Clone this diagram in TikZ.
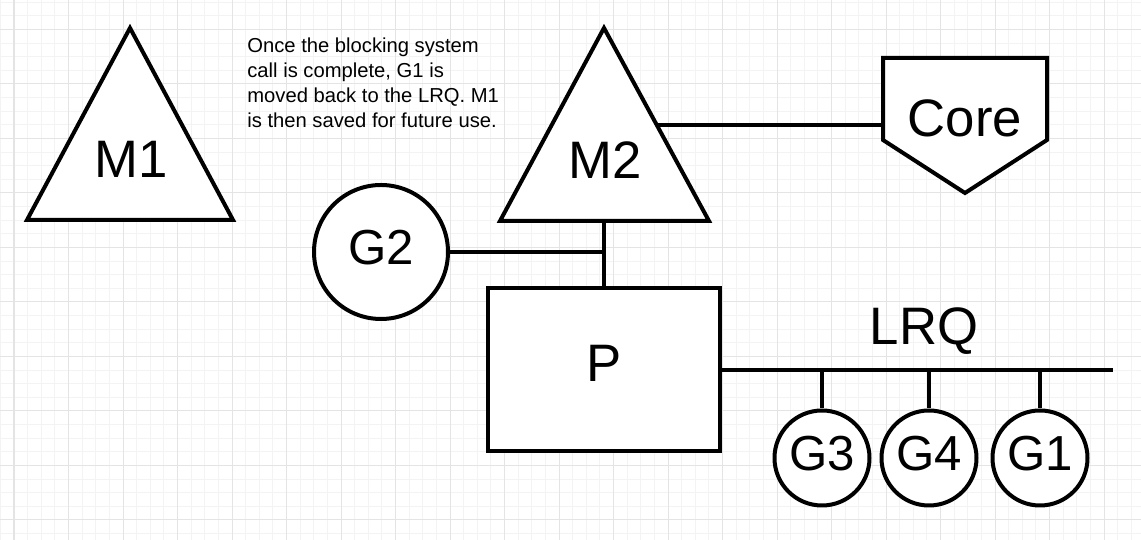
\documentclass[tikz,border=0pt]{standalone}
\usepackage{fontspec}
\setmainfont{Liberation Sans}
\usepackage{tikz}
\usepackage{xcolor}
\usetikzlibrary{positioning,calc}
\definecolor{gsink}{HTML}{000000}
\definecolor{gsgrid}{HTML}{F3F3F3}
\definecolor{gsgridd}{HTML}{E4E4E4}
\tikzset{
  wire/.style      = {draw=gsink, line width=0.08cm},
  mshape/.style    = {wire, fill=white, line join=miter},
  biglbl/.style    = {font=\fontsize{30}{36}\selectfont, inner sep=0pt,
                      text=gsink},
  gor/.style       = {circle, wire, fill=white, inner sep=0pt,
                      minimum size=1.9cm, text depth=0.2cm,
                      font=\fontsize{28}{34}\selectfont},
  proc/.style      = {rectangle, wire, fill=white, inner sep=0pt,
                      minimum width=4.64cm, minimum height=3.26cm,
                      text depth=0.28cm, font=\fontsize{30}{36}\selectfont},
  note/.style      = {font=\fontsize{11.5}{14.2}\selectfont, align=left,
                      inner sep=0pt, text=gsink},
  minorgrid/.style = {draw=gsgrid, line width=0.02cm},
  majorgrid/.style = {draw=gsgridd, line width=0.02cm},
}
\begin{document}
\begin{tikzpicture}

  \useasboundingbox (0,0) rectangle (22.82,10.8);
  \fill[white] (0,0) rectangle (22.82,10.8);

  % ---- grid paper -------------------------------------------------------
  \foreach \x in {0,...,83}
    \draw[minorgrid] ({0.0075+\x*0.2725},0) -- ++(0,10.8);
  \foreach \y in {0,...,39}
    \draw[minorgrid] (0,{0.1275+\y*0.2725}) -- ++(22.82,0);
  \foreach \x in {0,...,20}
    \draw[majorgrid] ({0.28+\x*1.09},0) -- ++(0,10.8);
  \foreach \y in {0,...,9}
    \draw[majorgrid] (0,{0.40+\y*1.09}) -- ++(22.82,0);

  % ---- threads and core -------------------------------------------------
  \draw[mshape] (2.60,10.24) -- (4.66,6.40) -- (0.54,6.40) -- cycle;
  \node[biglbl] (m1) at (2.62,7.62) {M1};

  \draw[mshape] (12.08,10.24) -- (14.18,6.38) -- (10.00,6.38) -- cycle;
  \node[biglbl] (m2) at (12.10,7.60) {M2};
  \coordinate (m2base) at (12.08,6.38);
  \coordinate (m2edge) at (13.14,8.29);

  \draw[mshape] (17.66,9.64) -- (20.94,9.64) -- (20.94,8.00) -- (19.30,6.94)
    -- (17.66,8.00) -- cycle;
  \node[biglbl] (core) at (19.30,8.44) {Core};
  \coordinate (corein) at (17.66,8.29);

  \node[note, anchor=north west] (blocknote) at (4.94,10.05)
    {Once the blocking system\\ call is complete, G1 is\\
     moved back to the LRQ. M1\\ is then saved for future use.};

  % ---- processor, goroutines and the run queue ---------------------------
  \node[proc] (p) at (12.08,3.40) {P};
  \node[gor, minimum size=2.68cm] (g2) at (7.62,5.76) {G2};

  \node[gor] (g3) at (16.44,1.64) {G3};
  \node[gor] (g4) at (18.58,1.64) {G4};
  \node[gor] (g1) at (20.80,1.64) {G1};

  \coordinate (lrqend) at (22.26,3.40);
  \node[biglbl] (lrq) at (18.48,4.18) {LRQ};

  % ---- connectors -------------------------------------------------------
  \draw[wire] (m2edge) -- (corein);
  \draw[wire] (g2.east) -- (g2.east -| m2base);
  \draw[wire] (m2base) -- (p.north);
  \draw[wire] (p.east) -- (lrqend);
  \draw[wire] (g3.north) -- (g3.north |- p.east);
  \draw[wire] (g4.north) -- (g4.north |- p.east);
  \draw[wire] (g1.north) -- (g1.north |- p.east);

\end{tikzpicture}
\end{document}
